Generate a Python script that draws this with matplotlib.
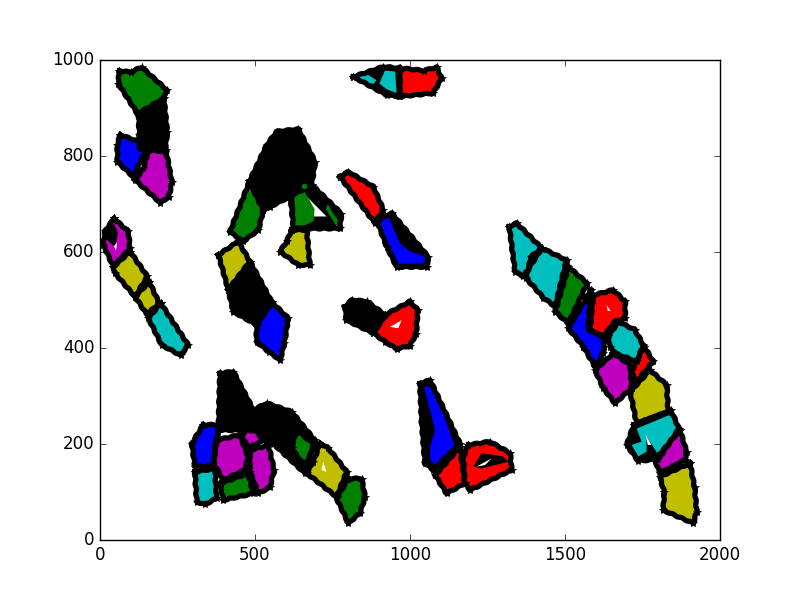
import matplotlib
matplotlib.use('Agg')
import matplotlib.pyplot as plt

plt.style.use('classic')

# regions, (x, y) in axis units
top_green = [(62, 977), (100, 975), (134, 985), (215, 938), (206, 920), (124, 885), (59, 951)]
top_black = [(124, 889), (206, 920), (217, 850), (210, 809), (129, 816), (127, 843)]
top_blue = [(65, 844), (156, 823), (107, 757), (56, 788), (56, 823)]
top_magenta = [(156, 812), (213, 812), (232, 745), (222, 715), (194, 703), (113, 750), (140, 774)]

left_magenta = [(45, 670), (91, 643), (97, 608), (43, 569), (11, 615), (16, 643)]
left_yellow1 = [(97, 601), (153, 549), (113, 507), (48, 556), (43, 569)]
left_yellow2 = [(159, 538), (191, 493), (151, 470), (113, 507)]
left_cyan = [(196, 493), (285, 406), (260, 385), (199, 406), (156, 462)]
left_notch = [(45, 660), (58, 640), (50, 610), (22, 625), (25, 645)]
left_speck = [(45, 612), (55, 620), (52, 603)]

mid_black1 = [(482, 747), (538, 823), (570, 851), (640, 856), (694, 788), (683, 740),
              (602, 712), (548, 694), (527, 688)]
mid_green = [(482, 747), (527, 688), (511, 646), (462, 622), (419, 642)]
mid_yellow = [(382, 594), (446, 622), (484, 580), (414, 521)]
mid_black2 = [(414, 521), (484, 580), (554, 496), (505, 448), (430, 476)]
mid_blue = [(505, 448), (554, 496), (607, 462), (595, 410), (581, 375), (545, 392), (505, 413)]

arm_black = [(613, 726), (683, 740), (779, 680), (774, 649), (624, 649)]
arm_white = [(667, 715), (731, 674), (686, 674)]
arm_green1 = [(624, 726), (655, 730), (692, 690), (690, 665), (660, 655), (628, 655), (630, 690)]
arm_green2 = [(735, 700), (752, 680), (785, 652), (768, 648), (745, 672), (728, 690)]
arm_dot = [(659, 738)]
arm_yellow = [(618, 646), (667, 646), (677, 573), (640, 573), (581, 601), (602, 622)]

head_black = [(817, 965), (914, 986), (966, 983), (966, 924), (925, 927)]
head_cyan1 = [(834, 967), (860, 971), (892, 958), (882, 950), (850, 955)]
head_cyan2 = [(901, 951), (919, 978), (952, 976), (957, 931), (925, 939)]
head_red = [(968, 983), (1045, 978), (1086, 985), (1102, 962), (1075, 931), (968, 924)]

diag_red = [(774, 757), (801, 767), (882, 736), (914, 688), (887, 660)]
diag_black = [(892, 667), (941, 681), (1059, 590), (1054, 569), (957, 569), (925, 611)]
diag_blue = [(903, 660), (930, 674), (968, 618), (1000, 601), (1054, 590), (1043, 576),
             (963, 575), (925, 625)]

heart_black = [(790, 486), (812, 500), (860, 497), (920, 469), (882, 431), (795, 458)]
heart_red = [(920, 469), (1000, 497), (1025, 479), (1020, 430), (1000, 405), (957, 398), (920, 413), (882, 431)]
heart_white = [(936, 444), (973, 458), (962, 441)]

low_spike = [(387, 347), (430, 351), (495, 271), (490, 229), (382, 229)]
low_blue = [(333, 240), (387, 240), (372, 195), (366, 153), (306, 153), (296, 201)]
low_cyan = [(306, 142), (371, 149), (376, 87), (339, 74), (312, 80)]
low_magenta1 = [(376, 208), (451, 219), (478, 174), (467, 146), (398, 125), (366, 160)]
low_green = [(387, 118), (478, 139), (495, 97), (398, 83)]
low_magenta2 = [(490, 243), (527, 208), (478, 191), (457, 219)]
low_magenta3 = [(484, 187), (543, 198), (562, 146), (548, 110), (511, 97), (484, 142)]
low_bridge = [(495, 271), (538, 285), (618, 267), (693, 208), (661, 139), (559, 201),
              (527, 208), (490, 243)]
low_green2 = [(634, 229), (693, 198), (661, 153), (618, 191)]
low_yellow = [(710, 201), (737, 191), (796, 142), (763, 90), (667, 139), (688, 163)]
low_white = [(720, 163), (731, 142), (715, 146)]
low_green3 = [(801, 128), (844, 128), (855, 90), (839, 56), (801, 35), (763, 87)]

foot_black = [(1032, 326), (1065, 333), (1161, 201), (1075, 146), (1048, 160), (1038, 243)]
foot_blue = [(1045, 319), (1065, 319), (1113, 253), (1145, 194), (1091, 149), (1065, 167),
             (1065, 194), (1081, 229)]
foot_red1 = [(1161, 194), (1177, 118), (1118, 97), (1081, 135)]
foot_red2 = [(1188, 198), (1258, 205), (1323, 181), (1328, 146), (1194, 104), (1177, 118), (1172, 174)]
foot_band = [(1204, 153), (1231, 181), (1301, 174), (1317, 163), (1231, 149)]
foot_white = [(1215, 153), (1263, 170), (1242, 156)]

arc_cyan1 = [(1320, 653), (1344, 660), (1425, 608), (1366, 549), (1339, 559)]
arc_cyan2 = [(1425, 608), (1505, 583), (1468, 486), (1430, 505), (1375, 545), (1390, 590)]
arc_green = [(1511, 569), (1572, 535), (1511, 451), (1468, 476)]
arc_blue = [(1583, 521), (1575, 441), (1629, 420), (1624, 389), (1597, 361), (1559, 403), (1511, 441)]
arc_red1 = [(1591, 510), (1655, 521), (1694, 497), (1694, 462), (1661, 455), (1624, 424), (1581, 437)]
arc_red1_speck = [(1634, 490), (1647, 477), (1638, 477)]
arc_cyan3 = [(1672, 455), (1725, 438), (1753, 406), (1731, 372), (1665, 388), (1645, 403), (1640, 424)]
arc_red2 = [(1755, 403), (1785, 372), (1726, 326), (1715, 354)]
arc_magenta1 = [(1656, 389), (1710, 365), (1715, 316), (1661, 285), (1624, 316), (1597, 354)]
arc_yellow1 = [(1774, 354), (1828, 323), (1833, 267), (1731, 243), (1710, 309)]
arc_black = [(1722, 240), (1842, 270), (1868, 232), (1801, 168), (1736, 165), (1699, 198)]
arc_cyan4 = [(1731, 232), (1839, 261), (1860, 233), (1801, 177), (1774, 205), (1763, 215),
             (1763, 184), (1736, 174), (1715, 198), (1747, 205)]
arc_white = [(1760, 219), (1779, 198), (1767, 198)]
arc_magenta2 = [(1871, 229), (1892, 184), (1887, 167), (1806, 139), (1790, 167)]
arc_yellow2 = [(1903, 160), (1918, 110), (1925, 59), (1914, 35), (1817, 62), (1820, 100), (1806, 132)]

# outlined regions, in drawing order
outlined = [
    (top_green, 'g'), (top_black, 'k'), (top_blue, 'b'), (top_magenta, 'm'),
    (left_magenta, 'm'), (left_yellow1, 'y'), (left_yellow2, 'y'), (left_cyan, 'c'),
    (mid_black1, 'k'), (mid_green, 'g'), (mid_yellow, 'y'), (mid_black2, 'k'), (mid_blue, 'b'),
    (arm_black, 'k'), (arm_yellow, 'y'),
    (head_black, 'k'), (head_red, 'r'),
    (diag_red, 'r'), (diag_black, 'k'),
    (heart_black, 'k'), (heart_red, 'r'),
    (low_spike, 'k'), (low_bridge, 'k'), (low_blue, 'b'), (low_cyan, 'c'), (low_magenta1, 'm'),
    (low_green, 'g'), (low_magenta2, 'm'), (low_magenta3, 'm'), (low_green2, 'g'),
    (low_yellow, 'y'), (low_green3, 'g'),
    (foot_black, 'k'), (foot_red1, 'r'), (foot_red2, 'r'),
    (arc_cyan1, 'c'), (arc_cyan2, 'c'), (arc_green, 'g'), (arc_blue, 'b'), (arc_red1, 'r'),
    (arc_cyan3, 'c'), (arc_red2, 'r'), (arc_magenta1, 'm'), (arc_yellow1, 'y'), (arc_black, 'k'),
    (arc_magenta2, 'm'), (arc_yellow2, 'y'),
]
# blobs and holes sitting on top, no outline
inner = [
    (left_notch, 'k'), (left_speck, 'w'),
    (arm_white, 'w'), (arm_green1, 'g'), (arm_green2, 'g'),
    (head_cyan1, 'c'), (head_cyan2, 'c'), (diag_blue, 'b'),
    (heart_white, 'w'), (low_white, 'w'),
    (foot_blue, 'b'), (foot_band, 'k'), (foot_white, 'w'),
    (arc_red1_speck, 'w'), (arc_cyan4, 'c'), (arc_white, 'w'),
]

fig, ax = plt.subplots(figsize=(8, 6), dpi=100)

for pts, col in outlined:
    xs = [p[0] for p in pts]
    ys = [p[1] for p in pts]
    ax.fill(xs, ys, color=col, linewidth=0)
    line, = ax.plot(xs + xs[:1], ys + ys[:1], 'k-', linewidth=3.8, marker='*', markersize=6)
    line.set_sketch_params(scale=0.5, length=10, randomness=1)

for pts, col in inner:
    ax.fill([p[0] for p in pts], [p[1] for p in pts], color=col, linewidth=0)

ax.plot([p[0] for p in arm_dot], [p[1] for p in arm_dot], 'go', markersize=4, markeredgewidth=0)

ax.set_xlim(0, 2000)
ax.set_ylim(0, 1000)
ax.set_xticks([0, 500, 1000, 1500, 2000])
ax.set_yticks([0, 200, 400, 600, 800, 1000])

plt.savefig('out.png', dpi=100)
